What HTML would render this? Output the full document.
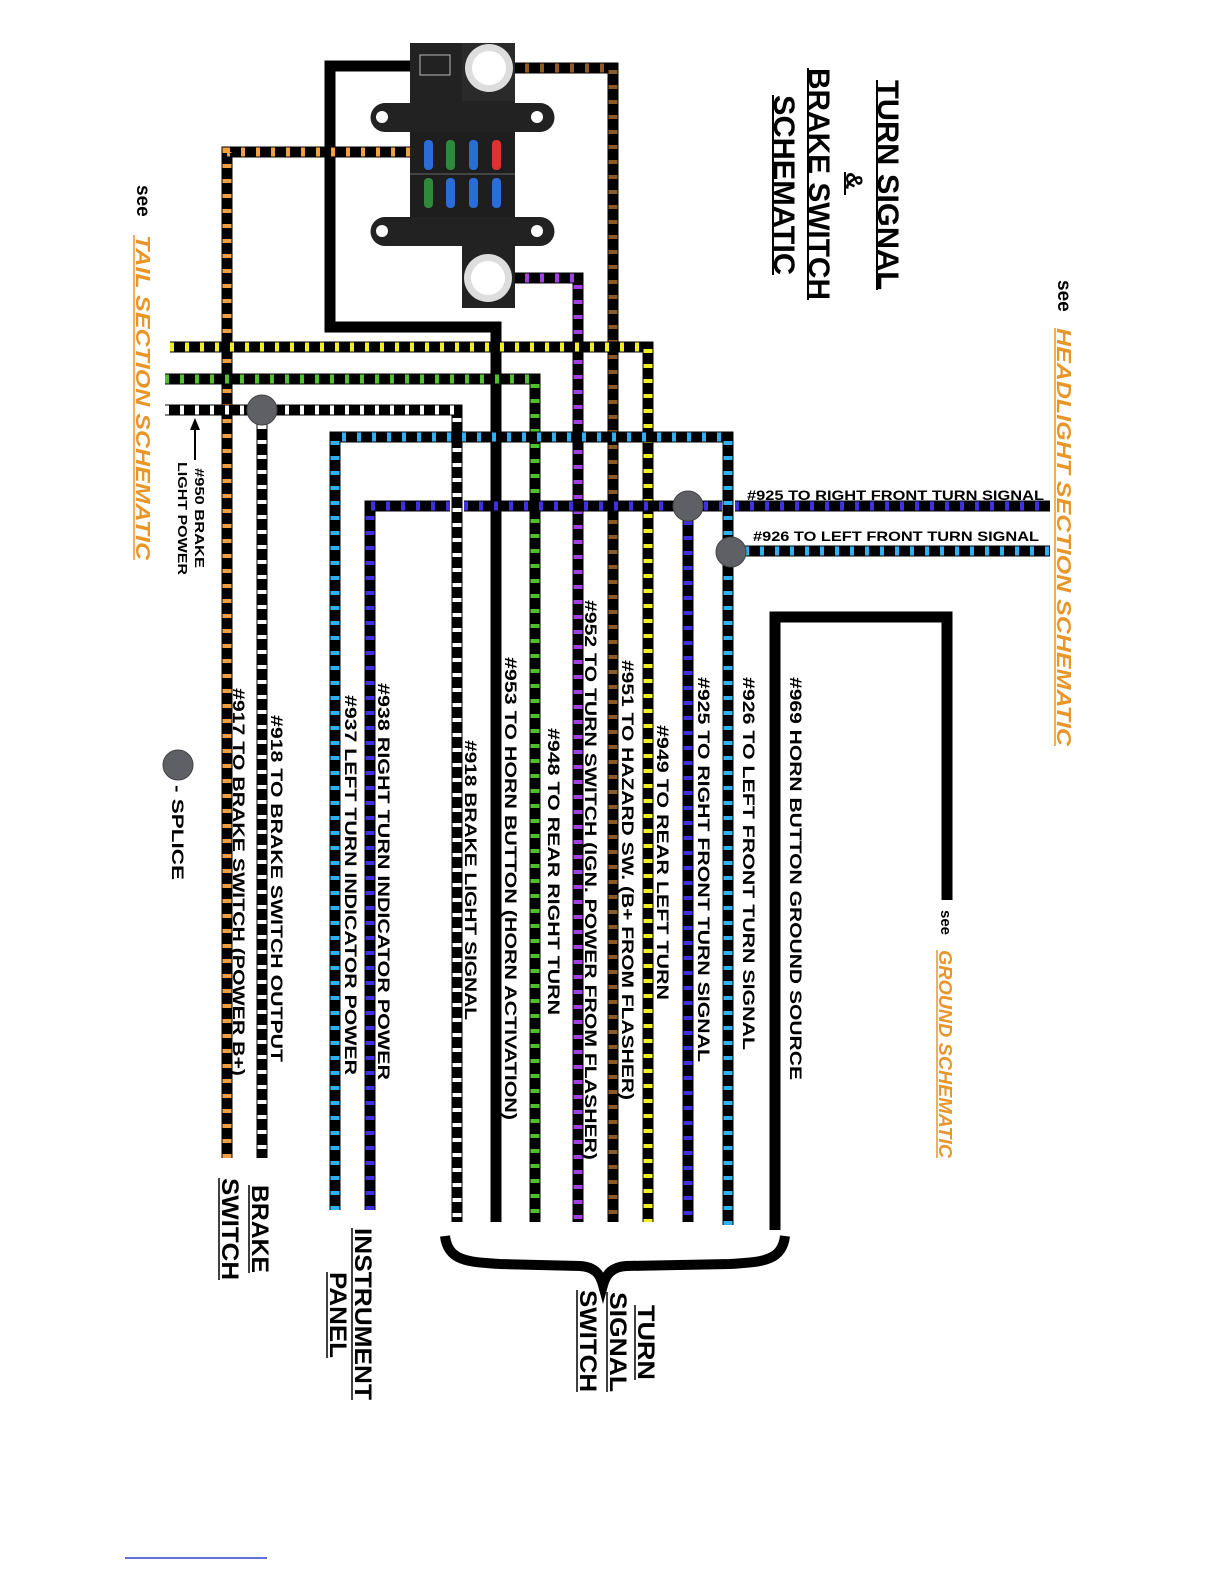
<!DOCTYPE html>
<html><head><meta charset="utf-8"><style>
html,body{margin:0;padding:0;background:#fff}
svg{display:block}
text{font-family:"Liberation Sans",sans-serif;font-weight:bold}
</style></head><body>
<svg width="1224" height="1584" viewBox="0 0 1224 1584" xmlns="http://www.w3.org/2000/svg">
<defs>
<style>
.b{fill:none;stroke:#000;stroke-width:11;stroke-linejoin:miter}
.s{fill:none;stroke-width:9;stroke-dasharray:4 11}
</style>
</defs>
<polyline class="b" points="410,66 330,66 330,327 496,327 496,1222"/>
<polyline class="b" points="775,1230 775,617 947,617 947,900"/>
<polyline class="b" points="410,152 227,152 227,1158"/>
<polyline class="s" stroke="#f0a040" points="410,152 227,152 227,1158"/>
<polyline class="b" points="510,68 613,68 613,1222"/>
<polyline class="s" stroke="#8a5a2a" points="510,68 613,68 613,1222"/>
<polyline class="b" points="510,278 578,278 578,1222"/>
<polyline class="s" stroke="#a040e0" points="510,278 578,278 578,1222"/>
<polyline class="b" points="170,347 648,347 648,1222"/>
<polyline class="s" stroke="#f0f020" points="170,347 648,347 648,1222"/>
<polyline class="b" points="165,379 535,379 535,1222"/>
<polyline class="s" stroke="#50c030" points="165,379 535,379 535,1222"/>
<polyline class="b" points="165,410 457,410 457,1222"/>
<polyline class="s" stroke="#fff" points="165,410 457,410 457,1222"/>
<polyline class="b" points="262,410 262,1158"/>
<polyline class="s" stroke="#fff" points="262,410 262,1158"/>
<polyline class="b" points="335,1210 335,437 728,437 728,1225"/>
<polyline class="s" stroke="#30b0f0" points="335,1210 335,437 728,437 728,1225"/>
<line x1="730" y1="551" x2="1050" y2="551" class="b"/>
<line x1="730" y1="551" x2="1050" y2="551" class="s" stroke="#30b0f0"/>
<polyline class="b" points="370,1210 370,506 450,506"/>
<polyline class="s" stroke="#4030e0" points="370,1210 370,506 450,506"/>
<polyline class="b" points="464,506 722,506"/>
<polyline class="s" stroke="#4030e0" points="464,506 722,506"/>
<line x1="735" y1="506" x2="1050" y2="506" class="b"/>
<line x1="735" y1="506" x2="1050" y2="506" class="s" stroke="#4030e0"/>
<polyline class="b" points="688,506 688,1222"/>
<polyline class="s" stroke="#4030e0" points="688,506 688,1222"/>
<g fill="#5f5f66" stroke="#444" stroke-width="1">
<circle cx="262" cy="410" r="15"/>
<circle cx="688" cy="506" r="15"/>
<circle cx="731" cy="552" r="15"/>
<circle cx="178" cy="765" r="15"/>
</g>
<g>
<rect x="410" y="43" width="105" height="62" fill="#222"/>
<rect x="462" y="43" width="53" height="58" fill="#2a2a2a"/>
<path d="M385,103 H540 A14,14 0 0 1 540,132 H385 A14,14 0 0 1 385,103Z" fill="#222"/>
<circle cx="382" cy="117" r="6" fill="#fff"/><circle cx="537" cy="117" r="6" fill="#fff"/>
<rect x="410" y="132" width="105" height="86" fill="#1e1e1e"/>
<line x1="410" y1="174" x2="515" y2="174" stroke="#444" stroke-width="2"/>
<path d="M385,217 H540 A14,14 0 0 1 540,246 H385 A14,14 0 0 1 385,217Z" fill="#222"/>
<circle cx="382" cy="231" r="6" fill="#fff"/><circle cx="537" cy="231" r="6" fill="#fff"/>
<rect x="462" y="246" width="53" height="62" fill="#222"/>
<rect x="424" y="140" width="9" height="30" rx="4" fill="#2a6cd8"/>
<rect x="446" y="140" width="9" height="30" rx="4" fill="#2e8a3a"/>
<rect x="469" y="140" width="9" height="30" rx="4" fill="#2a6cd8"/>
<rect x="492" y="140" width="9" height="30" rx="4" fill="#e03030"/>
<rect x="424" y="178" width="9" height="30" rx="4" fill="#2e8a3a"/>
<rect x="446" y="178" width="9" height="30" rx="4" fill="#2a6cd8"/>
<rect x="469" y="178" width="9" height="30" rx="4" fill="#2a6cd8"/>
<rect x="492" y="178" width="9" height="30" rx="4" fill="#2a6cd8"/>
<circle cx="489" cy="68" r="24" fill="#ddd"/><circle cx="489" cy="68" r="17" fill="#fff"/>
<circle cx="488" cy="278" r="24" fill="#ddd"/><circle cx="488" cy="278" r="17" fill="#fff"/>
<rect x="420" y="55" width="30" height="20" fill="none" stroke="#bbb" stroke-width="1"/>
</g>
<path d="M445,1236 C448,1262 470,1262 500,1264 L580,1266 C595,1267 600,1274 603,1285 C606,1274 612,1267 626,1266 L730,1264 C760,1262 782,1262 785,1236" fill="none" stroke="#000" stroke-width="10"/>
<g font-size="17">
<text transform="translate(233,688) rotate(90)" textLength="388" lengthAdjust="spacingAndGlyphs">#917 TO BRAKE SWITCH (POWER B+)</text>
<text transform="translate(271,715) rotate(90)" textLength="347" lengthAdjust="spacingAndGlyphs">#918 TO BRAKE SWITCH OUTPUT</text>
<text transform="translate(345,695) rotate(90)" textLength="380" lengthAdjust="spacingAndGlyphs">#937 LEFT TURN INDICATOR POWER</text>
<text transform="translate(378,683) rotate(90)" textLength="397" lengthAdjust="spacingAndGlyphs">#938 RIGHT TURN INDICATOR POWER</text>
<text transform="translate(465,740) rotate(90)" textLength="280" lengthAdjust="spacingAndGlyphs">#918 BRAKE LIGHT SIGNAL</text>
<text transform="translate(505,657) rotate(90)" textLength="463" lengthAdjust="spacingAndGlyphs">#953 TO HORN BUTTON (HORN ACTIVATION)</text>
<text transform="translate(548,728) rotate(90)" textLength="287" lengthAdjust="spacingAndGlyphs">#948 TO REAR RIGHT TURN</text>
<text transform="translate(585,600) rotate(90)" textLength="560" lengthAdjust="spacingAndGlyphs">#952 TO TURN SWITCH (IGN. POWER FROM FLASHER)</text>
<text transform="translate(622,660) rotate(90)" textLength="440" lengthAdjust="spacingAndGlyphs">#951 TO HAZARD SW. (B+ FROM FLASHER)</text>
<text transform="translate(657,725) rotate(90)" textLength="275" lengthAdjust="spacingAndGlyphs">#949 TO REAR LEFT TURN</text>
<text transform="translate(698,677) rotate(90)" textLength="385" lengthAdjust="spacingAndGlyphs">#925 TO RIGHT FRONT TURN SIGNAL</text>
<text transform="translate(743,677) rotate(90)" textLength="373" lengthAdjust="spacingAndGlyphs">#926 TO LEFT FRONT TURN SIGNAL</text>
<text transform="translate(790,677) rotate(90)" textLength="403" lengthAdjust="spacingAndGlyphs">#969 HORN BUTTON GROUND SOURCE</text>
</g>
<text x="747" y="500" font-size="14" textLength="297" lengthAdjust="spacingAndGlyphs">#925 TO RIGHT FRONT TURN SIGNAL</text>
<text x="753" y="541" font-size="14" textLength="286" lengthAdjust="spacingAndGlyphs">#926 TO LEFT FRONT TURN SIGNAL</text>
<text transform="translate(195,468) rotate(90)" font-size="13" textLength="100" lengthAdjust="spacingAndGlyphs">#950 BRAKE</text>
<text transform="translate(178,462) rotate(90)" font-size="13" textLength="113" lengthAdjust="spacingAndGlyphs">LIGHT POWER</text>
<line x1="195" y1="460" x2="195" y2="428" stroke="#000" stroke-width="2"/>
<path d="M190,430 L195,418 L200,430Z" fill="#000"/>
<text transform="translate(172,785) rotate(90)" font-size="17" textLength="95" lengthAdjust="spacingAndGlyphs">- SPLICE</text>
<g font-size="30">
<text transform="translate(878,80) rotate(90)" textLength="210" lengthAdjust="spacingAndGlyphs">TURN SIGNAL</text>
<text transform="translate(846,172) rotate(90)" font-size="24">&amp;</text>
<text transform="translate(809,68) rotate(90)" textLength="232" lengthAdjust="spacingAndGlyphs">BRAKE SWITCH</text>
<text transform="translate(774,95) rotate(90)" textLength="180" lengthAdjust="spacingAndGlyphs">SCHEMATIC</text>
</g>
<g stroke="#000" stroke-width="2">
<line x1="877" y1="80" x2="877" y2="290"/>
<line x1="845" y1="172" x2="845" y2="195"/>
<line x1="808" y1="68" x2="808" y2="300"/>
<line x1="773" y1="95" x2="773" y2="275"/>
</g>
<g font-size="20">
<text transform="translate(1058,280) rotate(90)" font-weight="normal" font-size="19">see</text>
<text transform="translate(1057,328) rotate(90)" fill="#e8962a" font-style="italic" textLength="418" lengthAdjust="spacingAndGlyphs">HEADLIGHT SECTION SCHEMATIC</text>
<text transform="translate(137,185) rotate(90)" font-weight="normal" font-size="19">see</text>
<text transform="translate(136,235) rotate(90)" fill="#e8962a" font-style="italic" textLength="325" lengthAdjust="spacingAndGlyphs">TAIL SECTION SCHEMATIC</text>
<text transform="translate(941,910) rotate(90)" font-weight="normal" font-size="15">see</text>
<text transform="translate(939,950) rotate(90)" fill="#e8962a" font-style="italic" font-size="18" textLength="208" lengthAdjust="spacingAndGlyphs">GROUND SCHEMATIC</text>
</g>
<g stroke="#e8962a" stroke-width="1.5">
<line x1="1055" y1="328" x2="1055" y2="746"/>
<line x1="134" y1="235" x2="134" y2="560"/>
<line x1="937" y1="950" x2="937" y2="1158"/>
</g>
<g font-size="24">
<text transform="translate(252,1185) rotate(90)" textLength="88" lengthAdjust="spacingAndGlyphs">BRAKE</text>
<text transform="translate(222,1178) rotate(90)" textLength="102" lengthAdjust="spacingAndGlyphs">SWITCH</text>
<text transform="translate(355,1228) rotate(90)" textLength="172" lengthAdjust="spacingAndGlyphs">INSTRUMENT</text>
<text transform="translate(330,1272) rotate(90)" textLength="86" lengthAdjust="spacingAndGlyphs">PANEL</text>
<text transform="translate(638,1305) rotate(90)" textLength="75" lengthAdjust="spacingAndGlyphs">TURN</text>
<text transform="translate(610,1292) rotate(90)" textLength="100" lengthAdjust="spacingAndGlyphs">SIGNAL</text>
<text transform="translate(580,1290) rotate(90)" textLength="102" lengthAdjust="spacingAndGlyphs">SWITCH</text>
</g>
<g stroke="#000" stroke-width="1.5">
<line x1="249" y1="1185" x2="249" y2="1273"/>
<line x1="219" y1="1178" x2="219" y2="1280"/>
<line x1="352" y1="1228" x2="352" y2="1400"/>
<line x1="327" y1="1272" x2="327" y2="1358"/>
<line x1="635" y1="1305" x2="635" y2="1380"/>
<line x1="607" y1="1292" x2="607" y2="1392"/>
<line x1="577" y1="1290" x2="577" y2="1392"/>
</g>
<line x1="125" y1="1558" x2="267" y2="1558" stroke="#3040d0" stroke-width="1.5"/>
</svg>
</body></html>
